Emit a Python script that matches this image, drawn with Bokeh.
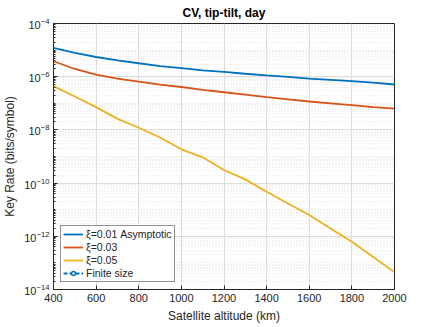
from bokeh.plotting import figure
from bokeh.models import (FixedTicker, Legend, LegendItem, ColumnDataSource, Range1d)
from bokeh.embed import file_html
from bokeh.resources import INLINE

altitude = [400, 500, 600, 700, 800, 900, 1000, 1100, 1200, 1300, 1400, 1500, 1600, 1700, 1800, 1900, 2000]
rate_xi001 = [1.2e-5, 7.9e-6, 5.5e-6, 4.1e-6, 3.2e-6, 2.5e-6, 2.1e-6, 1.74e-6, 1.51e-6, 1.29e-6,
              1.12e-6, 9.8e-7, 8.5e-7, 7.6e-7, 6.8e-7, 6.0e-7, 5.1e-7]
rate_xi003 = [3.8e-6, 1.95e-6, 1.2e-6, 8.5e-7, 6.5e-7, 5.0e-7, 4.1e-7, 3.2e-7, 2.6e-7, 2.1e-7,
              1.7e-7, 1.41e-7, 1.17e-7, 1.0e-7, 8.5e-8, 7.2e-8, 6.3e-8]
rate_xi005 = [4.4e-7, 1.8e-7, 7.2e-8, 2.6e-8, 1.2e-8, 5.2e-9, 1.86e-9, 9.3e-10, 3.1e-10, 1.38e-10,
              4.7e-11, 1.7e-11, 6.3e-12, 1.95e-12, 6.2e-13, 1.66e-13, 4.5e-14]
labels = ["ξ=0.01 Asymptotic", "ξ=0.03", "ξ=0.05", "Finite size"]
colors = ["#0072BD", "#D95319", "#EDB120"]
x_ticks = [400, 600, 800, 1000, 1200, 1400, 1600, 1800, 2000]
y_ticks = [1e-14, 1e-12, 1e-10, 1e-8, 1e-6, 1e-4]
finite_x = [float("nan")]
finite_y = [float("nan")]

FONT = "Liberation Sans"
INK = "#262626"

p = figure(width=436, height=325, y_axis_type="log", output_backend="svg",
           toolbar_location=None, title="CV, tip-tilt, day",
           x_range=Range1d(400, 2000), y_range=Range1d(1e-14, 1e-4),
           min_border_left=8, min_border_right=42, min_border_top=4, min_border_bottom=4)

p.title.align = "center"
p.title.text_font = FONT
p.title.text_font_size = "12px"
p.title.text_font_style = "bold"
p.title.text_color = "#000000"
p.title.offset = 0
p.title.standoff = 7

minor_y = []
for e in range(-14, -4):
    for k in range(2, 10):
        minor_y.append(k * 10.0 ** e)
    if (e % 2) != 0:
        minor_y.append(10.0 ** e)

p.xaxis.ticker = FixedTicker(ticks=x_ticks)
p.yaxis.ticker = FixedTicker(ticks=y_ticks, minor_ticks=minor_y)

for ax in (p.xaxis, p.yaxis):
    ax.major_label_text_font = FONT
    ax.major_label_text_font_size = "11px"
    ax.major_label_text_color = INK
    ax.axis_label_text_font = FONT
    ax.axis_label_text_font_size = "12px"
    ax.axis_label_text_font_style = "normal"
    ax.axis_label_text_color = INK
    ax.axis_line_color = INK
    ax.major_tick_line_color = INK
    ax.minor_tick_line_color = INK
    ax.major_tick_in = 4
    ax.major_tick_out = 0
    ax.minor_tick_in = 2
    ax.minor_tick_out = 0
    ax.axis_label_standoff = 4
    ax.major_label_standoff = 4

p.xaxis.axis_label = "Satellite altitude (km)"
p.yaxis.axis_label = "Key Rate (bits/symbol)"

p.xgrid.grid_line_color = "#dcdcdc"
p.ygrid.grid_line_color = "#dcdcdc"
p.ygrid.minor_grid_line_color = "#e4e4e4"
p.ygrid.minor_grid_line_dash = "1 2"
p.outline_line_color = INK
p.outline_line_alpha = 1

r1 = p.line(altitude, rate_xi001, line_color=colors[0], line_width=1.8)
r2 = p.line(altitude, rate_xi003, line_color=colors[1], line_width=1.8)
r3 = p.line(altitude, rate_xi005, line_color=colors[2], line_width=1.8)

fs = ColumnDataSource(data=dict(x=finite_x, y=finite_y))
r4a = p.line("x", "y", source=fs, line_color=colors[0], line_width=1.8, line_dash="4 2")
r4b = p.scatter("x", "y", source=fs, marker="circle", size=5, line_color=colors[0],
                fill_color="white", line_width=1.5)

legend = Legend(items=[LegendItem(label=labels[0], renderers=[r1]),
                       LegendItem(label=labels[1], renderers=[r2]),
                       LegendItem(label=labels[2], renderers=[r3]),
                       LegendItem(label=labels[3], renderers=[r4a, r4b])],
                location=(7, 7), label_text_font=FONT, label_text_font_size="10.5px",
                label_text_color=INK,
                glyph_width=20, glyph_height=10, label_height=10, spacing=1,
                padding=2, margin=0, label_standoff=3,
                border_line_color=INK, background_fill_alpha=1)
p.add_layout(legend, "center")

open("out.html", "w").write(file_html(p, INLINE))
